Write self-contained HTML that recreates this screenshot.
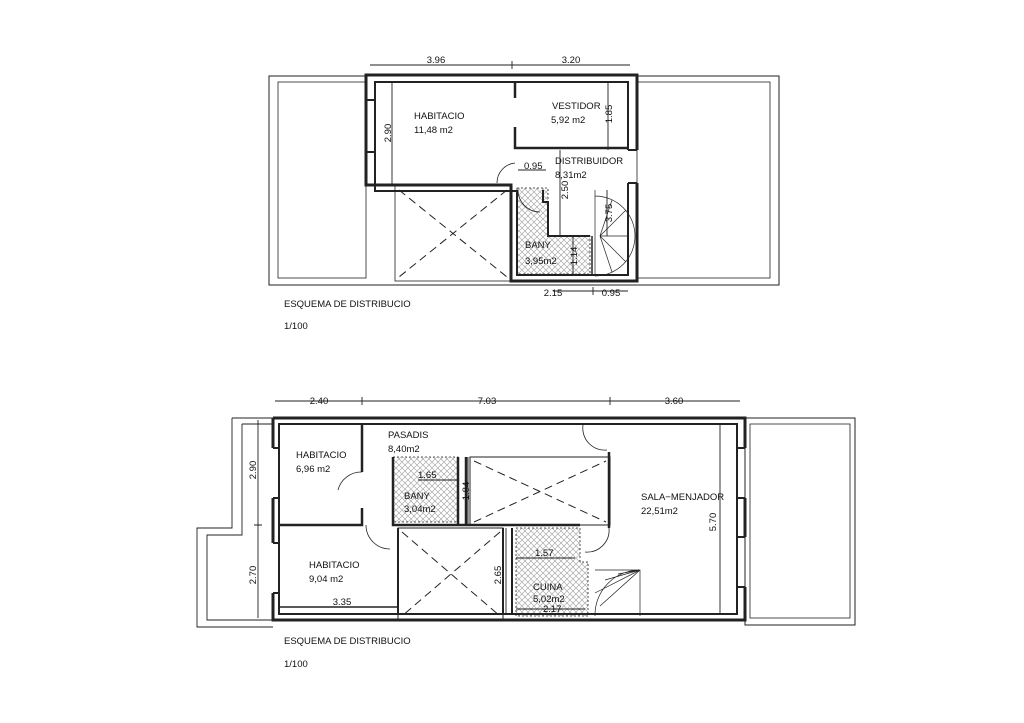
<!DOCTYPE html>
<html><head><meta charset="utf-8"><style>
html,body{margin:0;padding:0;background:#fff;}
svg{display:block;}
text{font-family:"Liberation Sans",sans-serif;font-size:9.5px;fill:#111;}
</style></head><body>
<svg width="1024" height="723" viewBox="0 0 1024 723" xmlns="http://www.w3.org/2000/svg">
<defs>
<pattern id="h" width="6" height="6" patternUnits="userSpaceOnUse">
<path d="M0,0L6,6M6,0L0,6" stroke="#aaa" stroke-width="0.7"/>
</pattern>
</defs>
<rect width="1024" height="723" fill="#fff"/>
<g fill="none" stroke="#222">
<!-- ============ TOP PLAN ============ -->
<rect x="269" y="76" width="510" height="209" stroke-width="1"/>
<rect x="278" y="82" width="88" height="196" stroke-width="0.8"/>
<rect x="637" y="82" width="133" height="196" stroke-width="0.8"/>
<rect x="395" y="185" width="116" height="96" stroke-width="0.8"/>
<path d="M399,190L507,277M507,190L399,277" stroke-dasharray="8,5" stroke-width="1"/>
<path d="M517,188L548,188L548,236L590,236L590,274L517,274Z" fill="url(#h)" stroke-dasharray="2,2" stroke-width="0.8"/>
<path d="M637,150L637,75L366,75L366,185L511,185L511,281L637,281L637,183" stroke-width="3"/>
<path d="M628,150L628,82L375,82L375,191L517,191L517,275L628,275L628,183" stroke-width="2"/>
<path d="M366,100L375,100M366,152L375,152M628,150L637,150M628,183L637,183" stroke-width="2"/>
<path d="M515,82L515,98M515,127L515,148L628,148" stroke-width="2.5"/>
<path d="M543,190L543,202L548,202L548,236L590,236" stroke-width="2"/>
<path d="M592,236L592,275" stroke-width="1.5"/>
<path d="M497,183A20,20 0 0 1 515,163" stroke-width="0.8"/>
<path d="M518,190A22,22 0 0 0 540,212" stroke-width="0.8"/>
<path d="M595,190L595,275M595,196A40,40 0 0 1 595,276M600,236L628,236M600,236L612,200M600,236L626,210M600,236L626,262M600,236L612,272" stroke-width="0.7"/>
<path d="M370,65L630,65M512,61L512,69M553,291L628,291M593,287L593,295M392,82L392,185M608,82L608,150M560,150L560,236M607,190L607,236M573,236L573,275M518,170L546,170" stroke-width="0.9"/>

<!-- ============ BOTTOM PLAN ============ -->
<path d="M232,418L273,418M232,418L232,528L197,528L197,627L273,627M242,424L273,424M242,424L242,535L207,535L207,620L273,620" stroke-width="0.9"/>
<rect x="745" y="418" width="110" height="207" stroke-width="1"/>
<rect x="750" y="424" width="100" height="194" stroke-width="0.8"/>
<rect x="393" y="457" width="65" height="65" fill="url(#h)" stroke-dasharray="2,2" stroke-width="0.8"/>
<path d="M516,528L580,528L580,562L588,562L588,616L516,616Z" fill="url(#h)" stroke-dasharray="2,2" stroke-width="0.8"/>
<rect x="470" y="457" width="140" height="68" stroke-width="1"/>
<path d="M474,522L606,461M474,461L606,522" stroke-dasharray="8,5" stroke-width="1"/>
<rect x="398" y="528" width="105" height="92" stroke-width="1"/>
<path d="M402,532L500,616M500,532L402,616" stroke-dasharray="8,5" stroke-width="1"/>
<path d="M273,418L745,418L745,448M745,498L745,537M745,587L745,620L273,620L273,593M273,543L273,498M273,448L273,418" stroke-width="3"/>
<path d="M279,424L737,424L737,614L279,614Z" stroke-width="2"/>
<path d="M273,448L279,448M273,498L279,498M273,543L279,543M273,593L279,593M737,448L745,448M737,498L745,498M737,537L745,537M737,587L745,587" stroke-width="2"/>
<path d="M362,424L362,472M362,508L362,525L279,525" stroke-width="2.5"/>
<path d="M393,457L393,525L580,525M458,457L458,525M466,457L466,525M609,452L609,528" stroke-width="2.5"/>
<path d="M398,528L398,614M503,528L503,614M512,528L512,614" stroke-width="2"/>
<path d="M279,607L397,607" stroke-width="1.5"/>
<path d="M338,490A24,24 0 0 1 362,472" stroke-width="0.8"/>
<path d="M366,525A24,24 0 0 0 390,549" stroke-width="0.8"/>
<path d="M583,425A22,22 0 0 0 607,450" stroke-width="0.8"/>
<path d="M609,528A22,22 0 0 1 585,552" stroke-width="0.8"/>
<path d="M595,570L640,570L640,616M595,616A45,45 0 0 1 640,570M595,593L640,570M605,580L640,570M618,574L640,570M600,606L640,570" stroke-width="0.7"/>
<path d="M275,401L740,401M362,397L362,405M610,397L610,405M258,420L258,618M254,525L262,525M720,424L720,614M468,457L468,525M418,480L458,480M506,528L506,614M516,558L575,558M516,609L585,609" stroke-width="0.9"/>
</g>

<text x="436" y="63" text-anchor="middle">3.96</text>
<text x="571" y="63" text-anchor="middle">3.20</text>
<text x="414" y="119">HABITACIO</text>
<text x="414" y="133">11,48  m2</text>
<text x="552" y="109">VESTIDOR</text>
<text x="551" y="123">5,92  m2</text>
<text x="555" y="164">DISTRIBUIDOR</text>
<text x="555" y="178">8,31m2</text>
<text x="524" y="169">0.95</text>
<text x="525" y="248">BANY</text>
<text x="525" y="264">3,95m2</text>
<text x="553" y="296" text-anchor="middle">2.15</text>
<text x="611" y="296" text-anchor="middle">0.95</text>
<text transform="translate(391,133) rotate(-90)" text-anchor="middle">2.90</text>
<text transform="translate(612,114) rotate(-90)" text-anchor="middle">1.85</text>
<text transform="translate(568,190) rotate(-90)" text-anchor="middle">2.50</text>
<text transform="translate(612,213) rotate(-90)" text-anchor="middle">3.75</text>
<text transform="translate(577,256) rotate(-90)" text-anchor="middle">1.14</text>
<text x="284" y="307">ESQUEMA  DE  DISTRIBUCIO</text>
<text x="284" y="329">1/100</text>

<text x="319" y="404" text-anchor="middle">2.40</text>
<text x="487" y="404" text-anchor="middle">7.03</text>
<text x="674" y="404" text-anchor="middle">3.60</text>
<text x="296" y="458">HABITACIO</text>
<text x="296" y="472">6,96  m2</text>
<text x="388" y="438">PASADIS</text>
<text x="388" y="452">8,40m2</text>
<text x="418" y="478">1.65</text>
<text x="404" y="499">BANY</text>
<text x="404" y="512">3,04m2</text>
<text x="309" y="568">HABITACIO</text>
<text x="309" y="582">9,04  m2</text>
<text x="342" y="605" text-anchor="middle">3.35</text>
<text x="535" y="556">1.57</text>
<text x="533" y="590">CUINA</text>
<text x="533" y="602">5,02m2</text>
<text x="543" y="612">2.17</text>
<text x="641" y="500">SALA−MENJADOR</text>
<text x="641" y="514">22,51m2</text>
<text transform="translate(256,470) rotate(-90)" text-anchor="middle">2.90</text>
<text transform="translate(256,575) rotate(-90)" text-anchor="middle">2.70</text>
<text transform="translate(469,491) rotate(-90)" text-anchor="middle">1.84</text>
<text transform="translate(501,575) rotate(-90)" text-anchor="middle">2.65</text>
<text transform="translate(716,522) rotate(-90)" text-anchor="middle">5.70</text>
<text x="284" y="644">ESQUEMA  DE  DISTRIBUCIO</text>
<text x="284" y="667">1/100</text>
</svg>
</body></html>
